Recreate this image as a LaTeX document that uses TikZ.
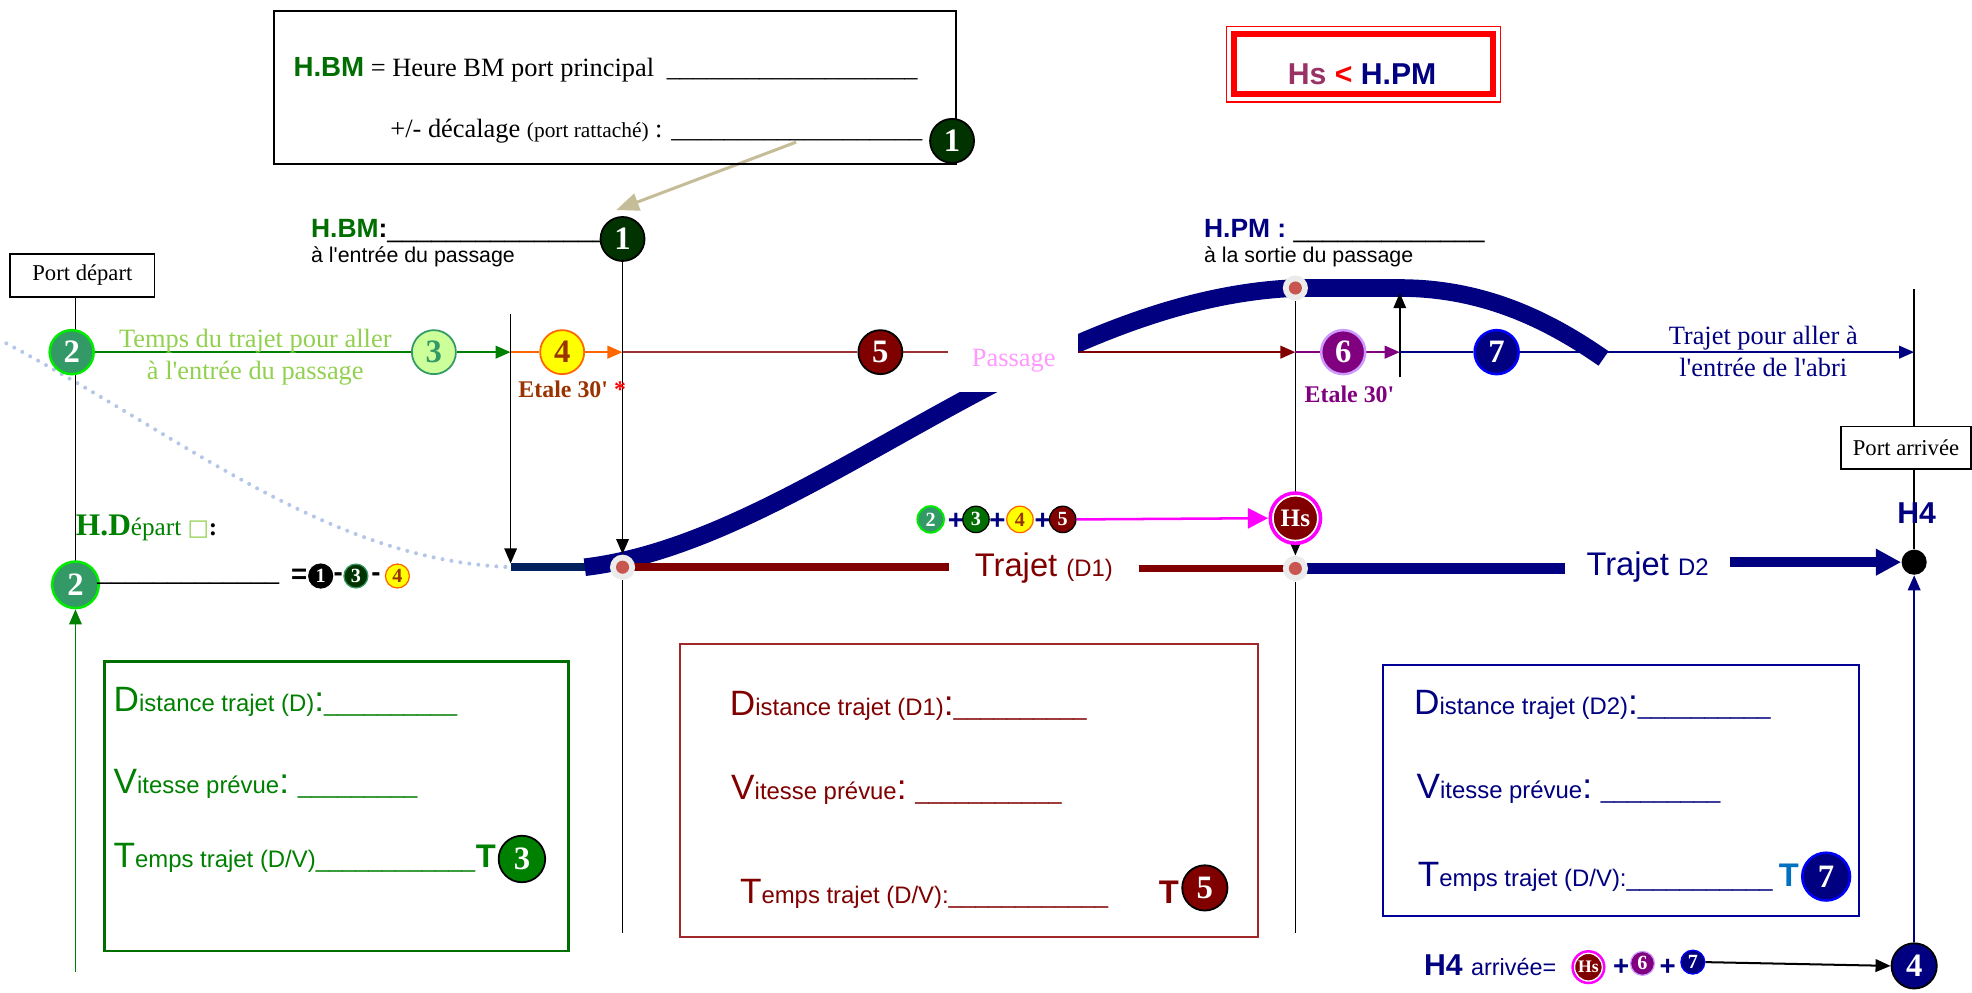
\documentclass[tikz,border=0pt]{standalone}
\usepackage{fontspec}
\setmainfont{Liberation Serif}
\setsansfont{Liberation Sans}
\newfontfamily\dejavu{DejaVu Sans}
\usetikzlibrary{arrows.meta}
\pgfdeclarelayer{bg}
\pgfsetlayers{bg,main}
\definecolor{navy}{RGB}{0,0,128}
\definecolor{navydk}{RGB}{0,32,96}
\definecolor{dkred}{RGB}{128,0,0}
\definecolor{boxred}{RGB}{160,40,40}
\definecolor{hbmgreen}{RGB}{0,110,0}
\definecolor{ggreen}{RGB}{0,128,0}
\definecolor{cgreen}{RGB}{0,51,0}
\definecolor{seagreen}{RGB}{51,153,102}
\definecolor{brightgreen}{RGB}{0,235,0}
\definecolor{paleg}{RGB}{204,255,153}
\definecolor{lightg}{RGB}{146,208,80}
\definecolor{orangec}{RGB}{255,102,0}
\definecolor{yellowc}{RGB}{255,255,0}
\definecolor{brownc}{RGB}{153,51,0}
\definecolor{pinkc}{RGB}{255,153,255}
\definecolor{purplec}{RGB}{128,0,128}
\definecolor{lilac}{RGB}{204,153,255}
\definecolor{bluec}{RGB}{0,0,255}
\definecolor{magentac}{RGB}{255,0,255}
\definecolor{tanc}{RGB}{196,189,151}
\definecolor{dotblue}{RGB}{180,199,231}
\definecolor{tblue}{RGB}{0,112,192}
\definecolor{hsp}{RGB}{153,51,102}
\definecolor{dotred}{RGB}{200,85,80}
\definecolor{boxnavy}{RGB}{0,0,153}
\newcommand\myfs[1]{\fontsize{#1}{#1}\selectfont}
\newcommand\usc[1]{\ifnum#1>0\relax\_\expandafter\usc\expandafter{\the\numexpr#1-1\relax}\fi}
\newcommand\ap{\textquotesingle}
\begin{document}
\begin{tikzpicture}[x=0.5pt,y=-0.5pt,
 num/.style={circle, inner sep=0pt, minimum size=17.5pt, line width=0.7pt, draw=black, text=white, font=\rmfamily\bfseries\myfs{13}},
 snum/.style={circle, inner sep=0pt, minimum size=9.5pt, line width=0.5pt, draw=black, text=white, font=\rmfamily\bfseries\myfs{8}},
 tri/.style={-{Triangle[length=6pt,width=5pt]}},
 passdot/.style={circle, inner sep=0pt, minimum size=10pt, fill=black!8, path picture={\fill[dotred] (path picture bounding box.center) circle (2.6pt);}},
 lb/.style={inner sep=0pt, anchor=base west},
 lbc/.style={inner sep=0pt, anchor=base},
 portbox/.style={draw, line width=0.6pt, inner sep=0pt, font=\rmfamily\myfs{9}},
 cut/.style={fill=white, inner sep=0pt},
 vline/.style={line width=0.6pt, black},
]
\useasboundingbox (0,0) rectangle (1568,789);

% ---------- coordinates
\coordinate (pA) at (406,280);
\coordinate (pB) at (495,280);
\coordinate (pC) at (1030,280);
\coordinate (pD) at (1113,280);
\coordinate (pE) at (1522,280);
\coordinate (dotS) at (5,273);
\coordinate (nvS) at (406,451);
\coordinate (cvS) at (465,451);
\coordinate (topR) at (1113,229);
\coordinate (cvE) at (1275,285);
\coordinate (vL1) at (60,236);
\coordinate (vL2) at (60,447);
\coordinate (gB) at (60,773);
\coordinate (v406a) at (406,250);
\coordinate (v406b) at (406,448);
\coordinate (v494b) at (495,742);
\coordinate (v1030b) at (1030,742);
\coordinate (v1113a) at (1113,300);
\coordinate (v1113b) at (1113,233);
\coordinate (v1522a) at (1522,230);
\coordinate (tanS) at (633,113);
\coordinate (tanE) at (490,167);

% ---------- top box
\node[draw, line width=0.8pt, minimum width=271pt, minimum height=60.5pt, inner sep=0pt] (topbox) at (489,69.5) {};
\node[lb] (hbmdef) at (233,61) {{\sffamily\bfseries\myfs{11}\color{hbmgreen}H.BM}\myfs{10.5} = Heure BM port principal\hspace{5pt}\usc{19}};
\node[lb] (decal) at (310,109) {\myfs{10.5}+/- décalage {\myfs{8.5}(port rattaché)} : \usc{19}};
\node[num, fill=cgreen] (n1top) at (757,112) {1};

% ---------- Hs < H.PM
\node[draw=red, line width=0.5pt, minimum width=109pt, minimum height=30pt, inner sep=0pt] (hsouter) at (1084,51) {};
\node[draw=red, line width=2.4pt, minimum width=103pt, minimum height=24pt, inner sep=0pt] (hsinner) at (1084,51) {};
\node[lbc, font=\sffamily\bfseries\myfs{12}] (hsrule) at (1083,67) {\color{hsp}Hs \color{red}< \color{navy}H.PM};

% ---------- H.BM / H.PM labels
\node[lb] (hbm) at (247,189) {\sffamily\bfseries\myfs{10.5}\color{hbmgreen}H.BM\color{black}:\mdseries\usc{15}};
\node[lb] (hbmsub) at (247,209) {\sffamily\myfs{8.5}à l\ap entrée du passage};
\node[num, fill=cgreen] (n1) at (495,190) {1};
\node[lb] (hpm) at (957,189) {\sffamily\myfs{10.5}{\color{navy}\bfseries H.PM :} \usc{13}};
\node[lb] (hpmsub) at (957,209) {\sffamily\myfs{8.5}à la sortie du passage};

% ---------- port boxes
\node[portbox, minimum width=57.5pt, minimum height=17pt] (pdep) at (65.5,219) {Port départ};
\node[portbox, minimum width=51.5pt, minimum height=17pt] (parr) at (1515.5,356) {Port arrivée};

% ---------- main line circles and labels
\node[num, fill=seagreen, draw=brightgreen, line width=1pt] (n2) at (57,280) {2};
\node[num, fill=paleg, draw=seagreen, text=seagreen] (n3) at (345,280) {3};
\node[num, fill=yellowc, draw=orangec, text=brownc] (n4) at (447,280) {4};
\node[num, fill=dkred] (n5) at (700,280) {5};
\node[num, fill=purplec, draw=lilac, line width=1pt] (n6) at (1068,280) {6};
\node[num, fill=navy, draw=bluec, line width=1pt] (n7) at (1190,280) {7};
\node[lbc, text=lightg, font=\rmfamily\myfs{10.5}] (tt1) at (203,276) {Temps du trajet pour aller};
\node[lbc, text=lightg, font=\rmfamily\myfs{10.5}] (tt2) at (203,302) {à l\ap entrée du passage};
\node[lbc, font=\rmfamily\bfseries\myfs{9.5}, text=brownc] (et1) at (455,316) {Etale 30\ap\ \textcolor{red}{*}};
\node[cut, minimum width=51.5pt, minimum height=25pt, text=pinkc, font=\rmfamily\myfs{10.5}] (pass) at (806,287) {Passage};
\node[lbc, font=\rmfamily\bfseries\myfs{9.5}, text=purplec] (et2) at (1073,320) {Etale 30\ap};
\node[lbc, text=navy, font=\rmfamily\myfs{10.5}] (tpa1) at (1402,274) {Trajet pour aller à};
\node[lbc, text=navy, font=\rmfamily\myfs{10.5}] (tpa2) at (1402,299) {l\ap entrée de l\ap abri};

% ---------- dots
\node[passdot] (dA) at (495,451) {};
\node[passdot] (dB) at (1030,229) {};
\node[passdot] (dC) at (1030,452) {};
\node[circle, fill=black, minimum size=10pt, inner sep=0pt] (h4dot) at (1522,447) {};
\node[lbc, font=\sffamily\bfseries\myfs{12}, text=navy] (h4) at (1524,416) {H4};

% ---------- trajet labels
\node[cut, minimum width=75pt, minimum height=15pt, text=dkred, font=\sffamily\myfs{13}] (d1) at (830,452) {Trajet {\myfs{9.5}(D1)}};
\node[cut, minimum width=65pt, minimum height=15pt, text=navy, font=\sffamily\myfs{13}] (d2) at (1310,451) {Trajet {\myfs{9.5}D2}};

% ---------- H.Depart
\node[lb, text=ggreen] (hdep) at (60,426) {\rmfamily{\bfseries\myfs{12.5}H.D}\myfs{10}épart {\dejavu\myfs{9}\color{lightg}□}\color{black}\bfseries:};
\node[num, fill=seagreen, draw=brightgreen, line width=1pt, minimum size=18.5pt] (n2b) at (60,465) {2};
\node[lb, font=\sffamily\myfs{10}] (hdline) at (77,461) {\usc{13}};
\node[lb, font=\sffamily\bfseries\myfs{11}] (eq) at (231,464) {=};
\node[snum, fill=black] (e1) at (255,458) {1};
\node[lbc, font=\sffamily\bfseries\myfs{11}] (m1) at (269,462) {-};
\node[snum, fill=cgreen, draw=seagreen] (e3) at (283,458) {3};
\node[lbc, font=\sffamily\bfseries\myfs{11}] (m2) at (299,462) {-};
\node[snum, fill=yellowc, draw=orangec, text=brownc] (e4) at (316,458) {4};

% ---------- Hs formula
\node[snum, fill=seagreen, draw=brightgreen, line width=0.8pt, minimum size=10.5pt] (f2) at (740,413) {2};
\node[lbc, font=\sffamily\bfseries\myfs{11}, text=navy] (fp1) at (760,421) {+};
\node[snum, fill=hbmgreen, minimum size=10.5pt] (f3) at (776,413) {3};
\node[lbc, font=\sffamily\bfseries\myfs{11}, text=navy] (fp2) at (793,421) {+};
\node[snum, fill=yellowc, draw=orangec, text=brownc, minimum size=10.5pt] (f4) at (811,413) {4};
\node[lbc, font=\sffamily\bfseries\myfs{11}, text=navy] (fp3) at (829,421) {+};
\node[snum, fill=dkred, minimum size=10.5pt] (f5) at (845,413) {5};
\node[circle, fill=dkred, draw=white, line width=0.8pt, minimum size=18pt, inner sep=0pt, text=white, font=\rmfamily\bfseries\myfs{10}] (hs) at (1030,412) {Hs};
\draw[magentac, line width=1.4pt] (hs.center) circle (10pt);

% ---------- H4 formula
\node[lb, text=navy] (h4f) at (1132,776) {\sffamily\bfseries\myfs{12}H4 \mdseries\myfs{9.3}arrivée=};
\node[circle, fill=dkred, draw=white, line width=0.5pt, minimum size=11pt, inner sep=0pt, text=white, font=\rmfamily\bfseries\myfs{7}] (hs2) at (1263,769) {Hs};
\draw[magentac, line width=1pt] (hs2.center) circle (6.3pt);
\node[lbc, font=\sffamily\bfseries\myfs{11}, text=navy] (bp1) at (1289,776) {+};
\node[snum, fill=purplec, draw=lilac] (g6) at (1306,766) {6};
\node[lbc, font=\sffamily\bfseries\myfs{11}, text=navy] (bp2) at (1326,776) {+};
\node[snum, fill=navy, draw=bluec] (g7) at (1346,765) {7};
\node[num, fill=navy, minimum size=18pt] (n4b) at (1522,768) {4};

% ---------- left box
\node[draw=hbmgreen, line width=0.9pt, minimum width=184.5pt, minimum height=115pt, inner sep=0pt] (boxL) at (267.5,641) {};
\node[lb, text=ggreen, font=\sffamily\myfs{9.5}] (Ld) at (90,566) {{\myfs{14}D}istance trajet (D){\myfs{14}:}\usc{10}};
\node[lb, text=ggreen, font=\sffamily\myfs{9.5}] (Lv) at (90,631) {{\myfs{14}V}itesse prévue{\myfs{14}:} \usc{9}};
\node[lb, text=ggreen, font=\sffamily\myfs{9.5}] (Lt) at (90,690) {{\myfs{14}T}emps trajet (D/V)\usc{12}};
\node[lb, text=ggreen, font=\sffamily\bfseries\myfs{13}] (LT) at (378,690) {T};
\node[num, fill=ggreen, minimum size=18.5pt] (n3T) at (415,683) {3};

% ---------- middle box
\node[draw=boxred, line width=0.8pt, minimum width=229.5pt, minimum height=116.5pt, inner sep=0pt] (boxM) at (770.5,628.5) {};
\node[lb, text=dkred, font=\sffamily\myfs{9.5}] (Md) at (580,569) {{\myfs{14}D}istance trajet (D1){\myfs{14}:}\usc{10}};
\node[lb, text=dkred, font=\sffamily\myfs{9.5}] (Mv) at (581,636) {{\myfs{14}V}itesse prévue{\myfs{14}:} \usc{11}};
\node[lb, text=dkred, font=\sffamily\myfs{9.5}] (Mt) at (588,718) {{\myfs{14}T}emps trajet (D/V):\usc{12}};
\node[lb, text=dkred, font=\sffamily\bfseries\myfs{13}] (MT) at (921,718) {T};
\node[num, fill=dkred, minimum size=18pt] (n5T) at (958,706) {5};

% ---------- right box
\node[draw=boxnavy, line width=0.8pt, minimum width=189pt, minimum height=99.5pt, inner sep=0pt] (boxR) at (1289,628.5) {};
\node[lb, text=navy, font=\sffamily\myfs{9.5}] (Rd) at (1124,568) {{\myfs{14}D}istance trajet (D2){\myfs{14}:}\usc{10}};
\node[lb, text=navy, font=\sffamily\myfs{9.5}] (Rv) at (1126,635) {{\myfs{14}V}itesse prévue{\myfs{14}:} \usc{9}};
\node[lb, text=navy, font=\sffamily\myfs{9.5}] (Rt) at (1127,705) {{\myfs{14}T}emps trajet (D/V):\usc{11}};
\node[lb, text=tblue, font=\sffamily\bfseries\myfs{13}] (RT) at (1414,705) {T};
\node[num, fill=navy, draw=bluec, line width=1pt, minimum size=19pt] (n7T) at (1452,697) {7};

% ---------- connectors (background layer)
\begin{pgfonlayer}{bg}
\fill[white] (0,0) rectangle (1568,789);
\draw[dotblue, line width=1.6pt, line cap=round, dash pattern=on 0pt off 3.6pt] (dotS) .. controls (150,350) and (260,445) .. (nvS);
\draw[navydk, line width=3pt] (nvS) -- (dA.center);
\draw[navy, line width=7pt] (cvS) .. controls (640,430) and (820,238) .. (dB.center) -- (topR) .. controls (1180,229) and (1232,255) .. (cvE);
\draw[dkred, line width=3pt] (dA.center) -- (d1.west |- dA);
\draw[dkred, line width=3pt] (d1.east |- dC) -- (dC.center);
\draw[navy, line width=4pt] (dC.center) -- (d2.west |- dC);
\draw[navy, line width=4pt, -{Triangle[length=10pt,width=10pt]}] (d2.east |- h4dot) -- (h4dot.west);
% verticals
\draw[vline] (vL1) -- (vL2);
\draw[ggreen, line width=0.7pt, tri] (gB) -- (n2b.south);
\draw[vline, tri] (v406a) -- (v406b);
\draw[vline, tri] (n1.south) -- (dA.north);
\draw[vline] (dA.south) -- (v494b);
\draw[vline] (dB.south) -- (hs.north);
\draw[vline, tri] (hs.south) -- (dC.north);
\draw[vline] (dC.south) -- (v1030b);
\draw[vline, tri] (v1113a) -- (v1113b);
\draw[vline] (v1522a) -- (parr.north -| h4dot);
\draw[vline] (parr.south -| h4dot) -- (h4dot.north);
\draw[navy, line width=0.8pt, tri] (n4b.north) -- (h4dot.south);
% main line
\draw[ggreen, line width=0.9pt] (n2) -- (n3);
\draw[ggreen, line width=0.9pt, tri] (n3) -- (pA);
\draw[orangec, line width=0.9pt] (pA) -- (n4);
\draw[orangec, line width=0.9pt, tri] (n4) -- (pB);
\draw[dkred!80!white, line width=0.7pt] (pB) -- (n5);
\draw[dkred!80!white, line width=0.7pt] (n5) -- (pass.west |- pB);
\draw[dkred, line width=1pt, tri] (pass.east |- pB) -- (pC);
\draw[purplec, line width=0.9pt] (pC) -- (n6);
\draw[purplec, line width=0.9pt, tri] (n6) -- (pD);
\draw[navy, line width=0.9pt] (pD) -- (n7);
\draw[navy, line width=0.9pt, tri] (n7) -- (pE);
% other arrows
\draw[tanc, line width=1.2pt, -{Triangle[length=9pt,width=7pt]}] (tanS) -- (tanE);
\draw[magentac, line width=1pt, -{Triangle[length=8pt,width=8pt]}, shorten >=1.5pt] (f5.east) -- (hs.west);
\draw[line width=0.8pt, tri] (g7.east) -- (n4b.west);
\end{pgfonlayer}
\end{tikzpicture}
\end{document}
